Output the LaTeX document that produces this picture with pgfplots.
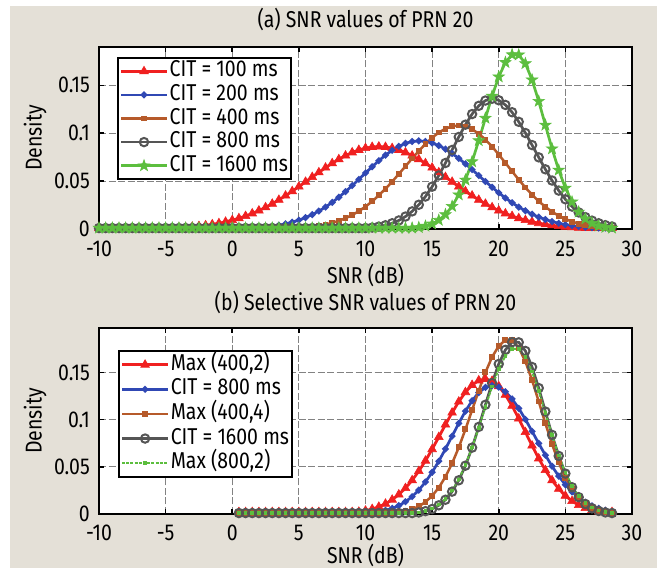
\documentclass[border=0pt]{standalone}
\usepackage{pgfplots}
\pgfplotsset{compat=1.18}
\usepackage{pgfplotstable}
\usepackage{fontspec}
\setmainfont{Fira Sans}[FakeStretch=0.85]
\definecolor{bg}{RGB}{228,224,215}
\definecolor{cred}{RGB}{240,32,32}
\definecolor{cblue}{RGB}{48,72,180}
\definecolor{cbrown}{RGB}{182,90,42}
\definecolor{cgray}{RGB}{85,85,85}
\definecolor{cgreen}{RGB}{92,190,62}
\definecolor{cgrid}{RGB}{130,130,130}

\pgfdeclareplotmark{pstar}{%
  \pgfpathmoveto{\pgfpointpolar{90}{\pgfplotmarksize}}%
  \pgfpathlineto{\pgfpointpolar{126}{0.4\pgfplotmarksize}}%
  \pgfpathlineto{\pgfpointpolar{162}{\pgfplotmarksize}}%
  \pgfpathlineto{\pgfpointpolar{198}{0.4\pgfplotmarksize}}%
  \pgfpathlineto{\pgfpointpolar{234}{\pgfplotmarksize}}%
  \pgfpathlineto{\pgfpointpolar{270}{0.4\pgfplotmarksize}}%
  \pgfpathlineto{\pgfpointpolar{306}{\pgfplotmarksize}}%
  \pgfpathlineto{\pgfpointpolar{342}{0.4\pgfplotmarksize}}%
  \pgfpathlineto{\pgfpointpolar{18}{\pgfplotmarksize}}%
  \pgfpathlineto{\pgfpointpolar{54}{0.4\pgfplotmarksize}}%
  \pgfpathclose
  \pgfusepathqfillstroke
}

\pgfplotstableread{
x r b o k g
-10 0.0010 0.0010 0.0010 0.0010 0.0010
-9.5 0.0010 0.0010 0.0010 0.0010 0.0010
-9 0.0010 0.0010 0.0010 0.0010 0.0010
-8.5 0.0010 0.0010 0.0010 0.0010 0.0010
-8 0.0010 0.0010 0.0010 0.0010 0.0010
-7.5 0.0010 0.0010 0.0010 0.0010 0.0010
-7 0.0010 0.0010 0.0010 0.0010 0.0010
-6.5 0.0010 0.0010 0.0010 0.0010 0.0010
-6 0.0010 0.0010 0.0010 0.0010 0.0010
-5.5 0.0010 0.0010 0.0010 0.0010 0.0010
-5 0.0010 0.0010 0.0010 0.0010 0.0010
-4.5 0.0010 0.0010 0.0010 0.0010 0.0010
-4 0.0013 0.0010 0.0010 0.0010 0.0010
-3.5 0.0018 0.0010 0.0010 0.0010 0.0010
-3 0.0023 0.0010 0.0010 0.0010 0.0010
-2.5 0.0030 0.0010 0.0010 0.0010 0.0010
-2 0.0038 0.0010 0.0010 0.0010 0.0010
-1.5 0.0048 0.0010 0.0010 0.0010 0.0010
-1 0.0060 0.0010 0.0010 0.0010 0.0010
-0.5 0.0075 0.0010 0.0010 0.0010 0.0010
0 0.0092 0.0010 0.0010 0.0010 0.0010
0.5 0.0112 0.0010 0.0010 0.0010 0.0010
1 0.0135 0.0010 0.0010 0.0010 0.0010
1.5 0.0162 0.0011 0.0010 0.0010 0.0010
2 0.0192 0.0016 0.0010 0.0010 0.0010
2.5 0.0226 0.0022 0.0010 0.0010 0.0010
3 0.0263 0.0030 0.0010 0.0010 0.0010
3.5 0.0304 0.0040 0.0010 0.0010 0.0010
4 0.0348 0.0054 0.0010 0.0010 0.0010
4.5 0.0394 0.0071 0.0010 0.0010 0.0010
5 0.0442 0.0093 0.0012 0.0010 0.0010
5.5 0.0492 0.0119 0.0017 0.0010 0.0010
6 0.0542 0.0150 0.0025 0.0010 0.0010
6.5 0.0591 0.0187 0.0034 0.0010 0.0010
7 0.0640 0.0229 0.0047 0.0010 0.0010
7.5 0.0686 0.0278 0.0064 0.0010 0.0010
8 0.0728 0.0332 0.0086 0.0010 0.0010
8.5 0.0766 0.0390 0.0113 0.0010 0.0010
9 0.0799 0.0453 0.0146 0.0010 0.0010
9.5 0.0825 0.0518 0.0186 0.0010 0.0010
10 0.0844 0.0585 0.0234 0.0010 0.0010
10.5 0.0856 0.0650 0.0288 0.0015 0.0010
11 0.0860 0.0713 0.0351 0.0025 0.0010
11.5 0.0856 0.0771 0.0420 0.0039 0.0010
12 0.0844 0.0821 0.0494 0.0060 0.0010
12.5 0.0825 0.0863 0.0574 0.0089 0.0010
13 0.0799 0.0894 0.0655 0.0130 0.0010
13.5 0.0766 0.0913 0.0736 0.0184 0.0010
14 0.0728 0.0920 0.0815 0.0253 0.0016
14.5 0.0686 0.0914 0.0888 0.0339 0.0030
15 0.0640 0.0898 0.0953 0.0442 0.0053
15.5 0.0591 0.0870 0.1007 0.0559 0.0092
16 0.0542 0.0834 0.1047 0.0689 0.0151
16.5 0.0492 0.0788 0.1072 0.0825 0.0237
17 0.0442 0.0737 0.1080 0.0961 0.0357
17.5 0.0394 0.0680 0.1070 0.1089 0.0512
18 0.0348 0.0620 0.1041 0.1200 0.0703
18.5 0.0304 0.0558 0.0995 0.1286 0.0923
19 0.0263 0.0496 0.0933 0.1341 0.1157
19.5 0.0226 0.0436 0.0860 0.1360 0.1387
20 0.0192 0.0378 0.0777 0.1344 0.1589
20.5 0.0162 0.0324 0.0690 0.1295 0.1739
21 0.0135 0.0274 0.0602 0.1219 0.1820
21.5 0.0112 0.0229 0.0515 0.1119 0.1818
22 0.0092 0.0190 0.0433 0.1002 0.1727
22.5 0.0075 0.0155 0.0358 0.0876 0.1557
23 0.0060 0.0124 0.0290 0.0748 0.1334
23.5 0.0048 0.0099 0.0231 0.0623 0.1085
24 0.0038 0.0078 0.0180 0.0506 0.0838
24.5 0.0030 0.0060 0.0138 0.0401 0.0615
25 0.0023 0.0046 0.0104 0.0310 0.0428
25.5 0.0018 0.0035 0.0077 0.0234 0.0283
26 0.0013 0.0026 0.0056 0.0173 0.0178
26.5 0.0010 0.0019 0.0040 0.0124 0.0106
27 0.0010 0.0014 0.0028 0.0087 0.0060
27.5 0.0010 0.0010 0.0019 0.0060 0.0032
28 0.0010 0.0010 0.0013 0.0040 0.0017
28.5 0.0010 0.0010 0.0010 0.0026 0.0010
}\toptab

\pgfplotstableread{
x r b o k g
0.5 0.0020 0.0010 0.0010 0.0010 0.0010
1 0.0020 0.0010 0.0010 0.0010 0.0010
1.5 0.0020 0.0010 0.0010 0.0010 0.0010
2 0.0020 0.0010 0.0010 0.0010 0.0010
2.5 0.0020 0.0010 0.0010 0.0010 0.0012
3 0.0020 0.0010 0.0010 0.0010 0.0012
3.5 0.0020 0.0010 0.0010 0.0010 0.0012
4 0.0020 0.0010 0.0010 0.0010 0.0012
4.5 0.0020 0.0010 0.0010 0.0010 0.0012
5 0.0020 0.0010 0.0010 0.0010 0.0012
5.5 0.0020 0.0010 0.0010 0.0010 0.0012
6 0.0020 0.0010 0.0010 0.0010 0.0012
6.5 0.0020 0.0010 0.0010 0.0010 0.0012
7 0.0020 0.0010 0.0010 0.0010 0.0012
7.5 0.0020 0.0010 0.0010 0.0010 0.0012
8 0.0020 0.0010 0.0010 0.0010 0.0012
8.5 0.0020 0.0010 0.0010 0.0010 0.0012
9 0.0020 0.0010 0.0010 0.0010 0.0012
9.5 0.0023 0.0010 0.0010 0.0010 0.0012
10 0.0035 0.0010 0.0010 0.0010 0.0012
10.5 0.0052 0.0015 0.0010 0.0010 0.0012
11 0.0076 0.0025 0.0010 0.0010 0.0012
11.5 0.0108 0.0039 0.0010 0.0010 0.0012
12 0.0151 0.0060 0.0010 0.0010 0.0012
12.5 0.0206 0.0089 0.0017 0.0010 0.0012
13 0.0274 0.0130 0.0030 0.0010 0.0012
13.5 0.0357 0.0184 0.0050 0.0010 0.0012
14 0.0454 0.0253 0.0081 0.0016 0.0018
14.5 0.0564 0.0339 0.0127 0.0030 0.0034
15 0.0686 0.0442 0.0192 0.0053 0.0059
15.5 0.0815 0.0559 0.0279 0.0092 0.0100
16 0.0946 0.0689 0.0394 0.0151 0.0161
16.5 0.1073 0.0825 0.0536 0.0237 0.0248
17 0.1190 0.0961 0.0705 0.0357 0.0367
17.5 0.1290 0.1089 0.0897 0.0512 0.0519
18 0.1366 0.1200 0.1101 0.0703 0.0704
18.5 0.1414 0.1286 0.1307 0.0923 0.0913
19 0.1430 0.1341 0.1500 0.1157 0.1134
19.5 0.1410 0.1360 0.1662 0.1387 0.1349
20 0.1353 0.1344 0.1780 0.1589 0.1537
20.5 0.1262 0.1295 0.1842 0.1739 0.1676
21 0.1145 0.1219 0.1840 0.1820 0.1750
21.5 0.1011 0.1119 0.1762 0.1818 0.1749
22 0.0867 0.1002 0.1615 0.1727 0.1665
22.5 0.0724 0.0876 0.1418 0.1557 0.1508
23 0.0588 0.0748 0.1192 0.1334 0.1301
23.5 0.0464 0.0623 0.0960 0.1085 0.1067
24 0.0357 0.0506 0.0740 0.0838 0.0834
24.5 0.0266 0.0401 0.0546 0.0615 0.0620
25 0.0193 0.0310 0.0386 0.0428 0.0439
25.5 0.0137 0.0234 0.0261 0.0283 0.0296
26 0.0094 0.0173 0.0169 0.0178 0.0190
26.5 0.0063 0.0124 0.0105 0.0106 0.0116
27 0.0041 0.0087 0.0062 0.0060 0.0067
27.5 0.0026 0.0060 0.0035 0.0032 0.0037
28 0.0020 0.0040 0.0019 0.0017 0.0020
28.5 0.0020 0.0026 0.0010 0.0010 0.0012
}\bottab

\pgfplotsset{
  myax/.style={
    scale only axis, width=533bp,
    xmin=-10, xmax=30, ymin=0,
    xtick={-10,-5,0,5,10,15,20,25,30},
    xticklabels={-10,-5,0,5,10,15,20,25,30},
    ytick={0,0.05,0.1,0.15},
    yticklabels={0,0.05,0.1,0.15},
    grid=major,
    major grid style={cgrid, line width=1.2bp, dash pattern=on 7bp off 2.5bp},
    axis line style={line width=2.4bp, black},
    major tick length=5bp,
    tick style={line width=1.6bp, black},
    tick label style={font=\fontsize{23}{26}\selectfont, inner sep=0bp},
    xticklabel style={anchor=north, yshift=-12bp},
    yticklabel style={anchor=east, xshift=-9bp},
    label style={font=\fontsize{23}{26}\selectfont, inner sep=0bp},
    title style={font=\fontsize{23}{26}\selectfont, anchor=center},
    axis background/.style={fill=white},
    legend cell align=left,
    legend style={draw=black, line width=2bp, fill=white,
      font=\fontsize{23}{26}\selectfont, anchor=north west,
      inner xsep=1.5bp, inner ysep=1.5bp,
      nodes={text height=16bp, text depth=5bp, inner sep=1.3bp}},
    legend image code/.code={\draw[mark repeat=2,mark phase=2] plot coordinates {(0bp,0bp) (23bp,0bp) (46bp,0bp)};},
    xlabel={SNR (dB)}, ylabel={Density},
    ylabel style={at={(axis description cs:-0.120,0.5)}, anchor=center},
  },
  sred/.style={cred, line width=2.8bp, mark=triangle*, mark size=5bp, mark options={solid, fill=cred, line width=0.6bp}},
  sblue/.style={cblue, line width=2.7bp, mark=*, mark size=1.8bp, mark options={solid}},
  sbrown/.style={cbrown, line width=2.5bp, mark=square*, mark size=1.7bp, mark options={solid}},
  sgray/.style={cgray, line width=2.7bp, mark=o, mark size=4.2bp, mark options={solid, line width=2bp}},
  sgreen/.style={cgreen, line width=2.7bp, mark=pstar, mark size=6bp, mark options={solid, fill=cgreen, line width=0.6bp}},
}

\begin{document}
\begin{tikzpicture}
\fill[white] (0bp,0bp) rectangle (657bp,568bp);
\fill[bg] (10bp,0bp) rectangle (657bp,562bp);
\useasboundingbox (0bp,0bp) rectangle (657bp,568bp);

\begin{axis}[myax, at={(99bp,339bp)}, anchor=south west, height=182bp, ymax=0.19,
  title={(a) SNR values of PRN 20},
  title style={at={(axis description cs:0.5,1.121)}},
  xlabel style={at={(axis description cs:0.5,-0.255)}, anchor=center},
  legend style={at={(axis description cs:0.034,0.945)}}]
\addplot[sred] table[x=x,y=r]{\toptab};
\addplot[sblue] table[x=x,y=b]{\toptab};
\addplot[sbrown] table[x=x,y=o]{\toptab};
\addplot[sgray] table[x=x,y=k]{\toptab};
\addplot[sgreen] table[x=x,y=g]{\toptab};
\legend{CIT = 100 ms, CIT = 200 ms, CIT = 400 ms, CIT = 800 ms, CIT = 1600 ms}
\end{axis}

\begin{axis}[myax, at={(99bp,54bp)}, anchor=south west, height=186bp, ymax=0.197,
  title={(b) Selective SNR values of PRN 20},
  title style={at={(axis description cs:0.5,1.1075)}},
  xticklabel style={yshift=1.5bp},
  xlabel style={at={(axis description cs:0.5,-0.222)}, anchor=center},
  legend style={at={(axis description cs:0.036,0.882)}, nodes={text height=16.5bp, text depth=5.5bp}}]
\addplot[sred] table[x=x,y=r]{\bottab};
\addplot[sblue] table[x=x,y=b]{\bottab};
\addplot[sbrown] table[x=x,y=o]{\bottab};
\addplot[sgray] table[x=x,y=k]{\bottab};
\addplot[cgreen, line width=2bp, dash pattern=on 3bp off 1.2bp, mark=square*, mark size=0.8bp, mark options={solid}] table[x=x,y=g]{\bottab};
\legend{{Max (400,2)}, CIT = 800 ms, {Max (400,4)}, CIT = 1600 ms, {Max (800,2)}}
\end{axis}
\end{tikzpicture}
\end{document}
